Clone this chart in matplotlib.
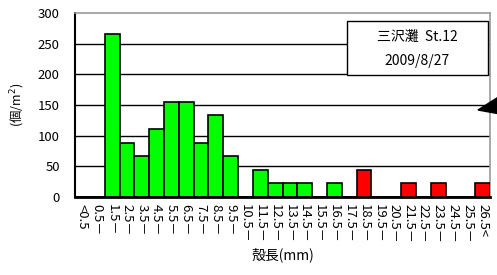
import matplotlib
matplotlib.use('Agg')
import matplotlib.pyplot as plt
from matplotlib.patches import Polygon, Rectangle

plt.rcParams['font.family'] = ['Noto Sans CJK JP', 'DejaVu Sans']

# size classes (shell length, mm)
labels = ['<0.5'] + ['%.1f－' % (0.5 + i) for i in range(26)] + ['26.5<']
# density (ind./m2)
green_vals = [0, 0, 266.4, 88.8, 66.6, 111.0, 155.4, 155.4, 88.8, 133.2, 66.6,
              0, 44.4, 22.2, 22.2, 22.2, 0, 22.2, 0, 0, 0, 0, 0, 0, 0, 0, 0, 0]
red_vals = [0, 0, 0, 0, 0, 0, 0, 0, 0, 0, 0,
            0, 0, 0, 0, 0, 0, 0, 0, 44.4, 0, 0, 22.2, 0, 22.2, 0, 0, 22.2]
yticks = [0, 50, 100, 150, 200, 250, 300]

fig = plt.figure(figsize=(4.97, 2.75), dpi=100)
ax = fig.add_axes([0.151, 0.2836, 0.835, 0.669])

x = list(range(len(labels)))
ax.bar(x, green_vals, width=1.0, color='#00ff00', edgecolor='black', linewidth=1.2, zorder=3)
ax.bar(x, red_vals, width=1.0, color='#ff0000', edgecolor='black', linewidth=1.2, zorder=3)

ax.set_xlim(-0.5, len(labels) - 0.5)
ax.set_ylim(0, 300)
ax.set_yticks(yticks)
ax.set_yticklabels([str(v) for v in yticks], fontsize=9.5)
for v in yticks[1:-1]:
    ax.axhline(v, color='black', linewidth=1.0, zorder=1)

ax.set_xticks(x)
ax.set_xticklabels(labels, rotation=270, fontsize=9.5, va='top', ha='center')
ax.tick_params(axis='x', length=0, pad=5)
ax.tick_params(axis='y', length=0, pad=11)

ax.spines['left'].set_color('black')
ax.spines['left'].set_linewidth(1.5)
ax.spines['bottom'].set_color('black')
ax.spines['bottom'].set_linewidth(2.0)
ax.spines['top'].set_color('#999999')
ax.spines['right'].set_color('#999999')
ax.spines['top'].set_linewidth(1.2)
ax.spines['right'].set_linewidth(1.2)

ax.set_ylabel('(個/m$^2$)', fontsize=9, labelpad=8)
ax.set_xlabel('殻長(mm)', fontsize=10, labelpad=3)

# station / date box
ax.add_patch(Rectangle((0.655, 0.663), 0.34, 0.294, transform=ax.transAxes,
                       facecolor='white', edgecolor='black', linewidth=1.0, zorder=5))
ax.text(0.825, 0.87, '三沢灘  St.12', transform=ax.transAxes,
        ha='center', va='center', fontsize=10, zorder=6)
ax.text(0.825, 0.74, '2009/8/27', transform=ax.transAxes,
        ha='center', va='center', fontsize=10, zorder=6)

# arrowhead at the right edge
tri = Polygon([[478 / 497, 1 - 110 / 275], [500 / 497, 1 - 96 / 275], [500 / 497, 1 - 114 / 275]],
              closed=True, transform=fig.transFigure, facecolor='black', edgecolor='black', clip_on=False)
fig.patches.append(tri)

fig.savefig('out.png', dpi=100)
